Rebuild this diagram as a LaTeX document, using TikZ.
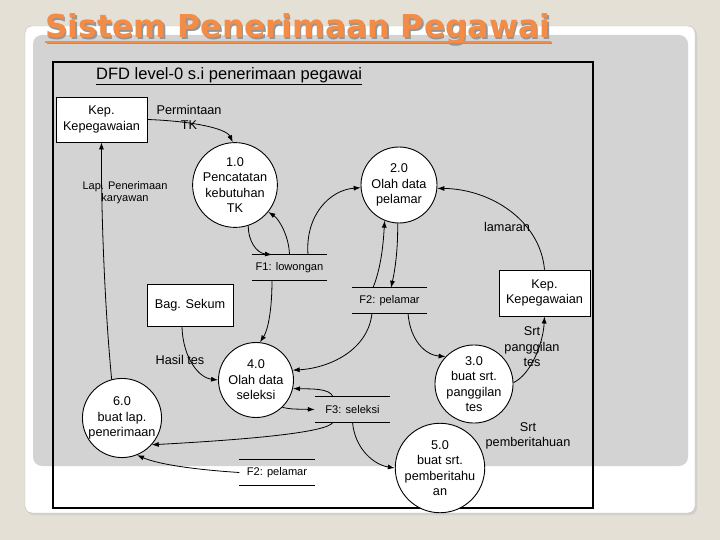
\documentclass[tikz,border=0pt]{standalone}
\usepackage{fontspec}
\setmainfont{Liberation Sans}
\newfontfamily\titlefont{DejaVu Sans}
\usetikzlibrary{arrows.meta,calc}
\definecolor{pagebg}{RGB}{229,224,214}
\definecolor{graybg}{RGB}{211,211,211}
\definecolor{cardedge}{RGB}{190,188,182}
\definecolor{titleorange}{RGB}{242,140,70}
\definecolor{titleshadow}{RGB}{150,150,150}
\begin{document}
\begin{tikzpicture}[x=1pt,y=-1pt,
  proc/.style={circle,draw=black,line width=0.9pt,fill=white,minimum size=76pt,inner sep=0pt,align=center,font=\fontsize{12.7}{15.5}\selectfont},
  ent/.style={rectangle,draw=black,line width=0.9pt,fill=white,inner sep=0pt,align=center,font=\fontsize{12.7}{15.5}\selectfont},
  storetxt/.style={minimum width=75pt,minimum height=25pt,inner sep=0pt,font=\fontsize{11.1}{13}\selectfont},
  storeline/.style={line width=0.9pt},
  lbl/.style={align=center,inner sep=0pt,font=\fontsize{12.7}{15.5}\selectfont},
  smalllbl/.style={align=center,inner sep=0pt,font=\fontsize{11}{12.5}\selectfont},
  flow/.style={line width=0.8pt,-{Latex[length=7pt,width=5pt]}},
]
\useasboundingbox (0,0) rectangle (720,540);
\fill[pagebg] (0,0) rectangle (720,540);
% card
\fill[cardedge!70,rounded corners=7pt] (27,28) rectangle (697,515);
\draw[cardedge,fill=white,rounded corners=7pt] (25,26) rectangle (695,513);
\fill[graybg,rounded corners=9pt] (33,35) rectangle (688,466);
% title
\node[anchor=base west,inner sep=0pt,text=titleshadow] at (46.5,39.5) {\titlefont\bfseries\fontsize{31.5}{34}\selectfont Sistem Penerimaan Pegawai};
\node[anchor=base west,inner sep=0pt,text=titleorange] (title) at (45,38) {\titlefont\bfseries\fontsize{31.5}{34}\selectfont Sistem Penerimaan Pegawai};
\draw[titleshadow,line width=2pt] ([xshift=1.5pt,yshift=-5.5pt]title.base west) -- ([xshift=1.5pt,yshift=-5.5pt]title.base east);
\draw[titleorange,line width=2pt] ([yshift=-4pt]title.base west) -- ([yshift=-4pt]title.base east);
% frame
\draw[line width=2pt] (53,62) rectangle (593,508);
\node[anchor=west,inner sep=0pt,font=\fontsize{16.5}{19}\selectfont] (dfd) at (96,76) {\underline{DFD level-0 s.i penerimaan pegawai}};
% entities
\node[ent,minimum width=91pt,minimum height=45pt] (kep1) at (101.5,119.5) {Kep.\\Kepegawaian};
\node[ent,minimum width=91pt,minimum height=46pt] (kep2) at (544.5,293) {Kep.\\Kepegawaian};
\node[ent,minimum width=86pt,minimum height=42pt] (sekum) at (190,305) {Bag. Sekum};
% processes
\node[proc] (p1) at (235,185) {1.0\\Pencatatan\\kebutuhan\\TK};
\node[proc] (p2) at (399,185) {2.0\\Olah data\\pelamar};
\node[proc,minimum size=75pt] (p3) at (474,384) {3.0\\buat srt.\\panggilan\\tes};
\node[proc,minimum size=75pt] (p4) at (256,380) {4.0\\Olah data\\seleksi};
\node[proc] (p5) at (440,468) {5.0\\buat srt.\\pemberitahu\\an};
\node[proc] (p6) at (122,418) {6.0\\buat lap.\\penerimaan};
% stores
\node[storetxt] (f1) at (289.5,267.5) {F1: lowongan};
\node[storetxt] (f2a) at (389.5,300.5) {F2: pelamar};
\node[storetxt] (f3) at (352.5,409.5) {F3: seleksi};
\node[storetxt] (f2b) at (277,472.5) {F2: pelamar};
\foreach \s in {f1,f2a,f3,f2b}{
  \draw[storeline] (\s.north west) -- (\s.north east) (\s.south west) -- (\s.south east);
}
% flows
\draw[flow] (kep1.east) .. controls (190,121) and (226,128) .. (p1.93);
\draw[flow] (p6.105) .. controls (104,300) and (101,200) .. (kep1.south);
\draw[flow] (p1.288) .. controls (248,240) and (256,253) .. ([xshift=-17.5pt]f1.north);
\draw[flow] (f1.north) .. controls (289,236) and (279,219) .. (p1.321);
\draw[flow] ([xshift=18.5pt]f1.north) .. controls (305,215) and (330,190) .. (p2.184);
\draw[flow] (kep2.north) .. controls (540,220) and (490,189) .. (p2.355);
\draw[flow] ([xshift=-16.5pt]f2a.north) .. controls (380,270) and (383,250) .. (p2.248);
\draw[flow] (p2.268) .. controls (398,250) and (395,270) .. ([xshift=1.5pt]f2a.north);
\draw[flow] ([xshift=-17.5pt]f1.south) .. controls (272,310) and (268,330) .. (p4.84);
\draw[flow] ([xshift=-17.5pt]f2a.south) .. controls (368,350) and (330,368) .. (p4.15);
\draw[flow] ([xshift=18.5pt]f2a.south) .. controls (410,340) and (425,355) .. (p3.136);
\draw[flow] ([xshift=-8pt]sekum.south) .. controls (183,360) and (200,378) .. (p4.180);
\draw[flow] ([xshift=-19.5pt]f3.north) .. controls (330,388) and (310,389) .. (p4.347);
\draw[flow] (p4.314) .. controls (290,409) .. (f3.west);
\draw[flow] ([xshift=-19.5pt]f3.south) .. controls (328,433) and (240,440) .. (p6.318);
\draw[flow] (f3.south) .. controls (355,450) and (375,465) .. (p5.180);
\draw[flow] (f2b.west) .. controls (200,470) and (160,465) .. (p6.292);
\draw[flow] (p3.2) .. controls (530,375) and (543,345) .. (kep2.south);
% labels
\node[lbl] (lpermintaan) at (189,117.5) {Permintaan\\TK};
\node[smalllbl] (llap) at (125,192.5) {Lap. Penerimaan\\karyawan};
\node[lbl] (llamaran) at (507,227) {lamaran};
\node[lbl] (lhasil) at (180,360) {Hasil tes};
\node[lbl] (lsrt1) at (532,347) {Srt\\panggilan\\tes};
\node[lbl] (lsrt2) at (528,436) {Srt\\pemberitahuan};
\end{tikzpicture}
\end{document}
